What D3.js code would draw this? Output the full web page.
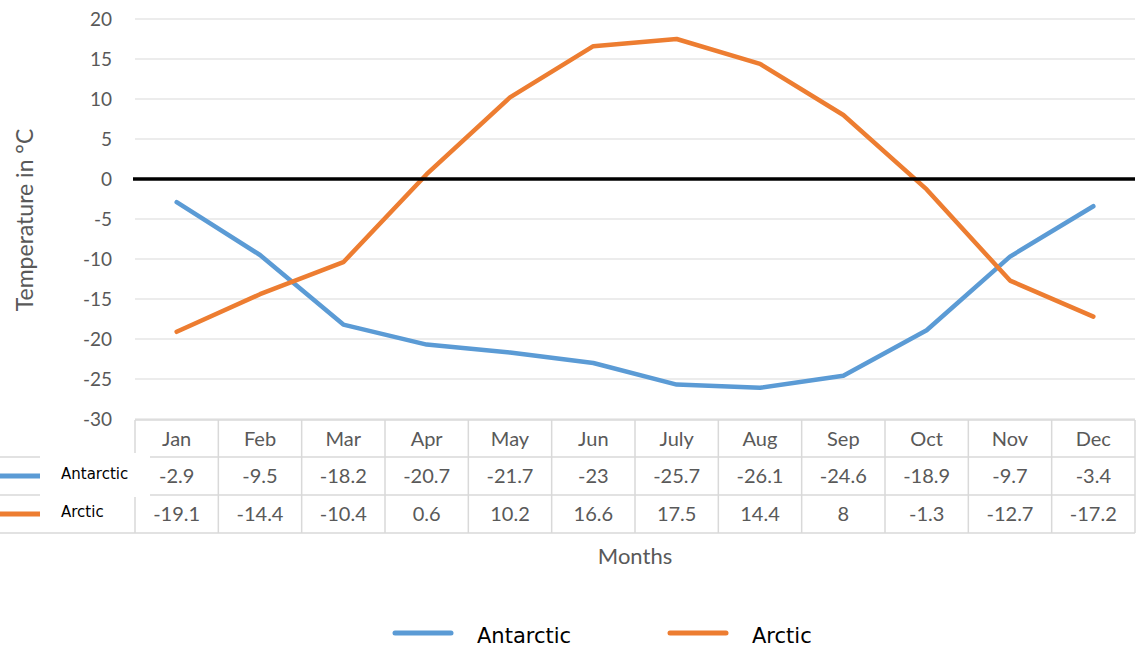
<!DOCTYPE html>
<html>
<head>
<meta charset="utf-8">
<script src="https://cdn.jsdelivr.net/npm/d3@7"></script>
<style>
  body { margin: 0; background: #fff; }
  text { font-family: Lato, "Open Sans", sans-serif; }
</style>
</head>
<body>
<div id="chart"></div>
<script>
// data
var months = ["Jan", "Feb", "Mar", "Apr", "May", "Jun", "July", "Aug", "Sep", "Oct", "Nov", "Dec"];
var antarctic = [-2.9, -9.5, -18.2, -20.7, -21.7, -23, -25.7, -26.1, -24.6, -18.9, -9.7, -3.4];
var arctic = [-19.1, -14.4, -10.4, 0.6, 10.2, 16.6, 17.5, 14.4, 8, -1.3, -12.7, -17.2];
var yTicks = [20, 15, 10, 5, 0, -5, -10, -15, -20, -25, -30];
var seriesNames = ["Antarctic", "Arctic"];
var colors = ["#5b9bd5", "#ed7d31"];

var W = 1141, H = 648;
var plot = {left: 135, right: 1135, top: 19, bottom: 419};

var svg = d3.select("#chart").append("svg")
    .attr("width", W)
    .attr("height", H);

// scales
var x = d3.scaleBand().domain(months).range([plot.left, plot.right]).padding(0);
var y = d3.scaleLinear().domain([-30, 20]).range([plot.bottom, plot.top]);

// gridlines
svg.append("g").selectAll("line")
    .data(yTicks.filter(function(d) { return d !== 0; }))
  .enter().append("line")
    .attr("x1", plot.left).attr("x2", plot.right)
    .attr("y1", function(d) { return y(d); })
    .attr("y2", function(d) { return y(d); })
    .style("stroke", "#d9d9d9")
    .style("stroke-width", 1.2);

// y tick labels
svg.append("g").selectAll("text")
    .data(yTicks)
  .enter().append("text")
    .attr("x", 112)
    .attr("y", function(d) { return y(d); })
    .attr("dy", "0.35em")
    .attr("text-anchor", "end")
    .style("font-size", "19px")
    .style("fill", "#595959")
    .text(function(d) { return d; });

// y axis title
svg.append("text")
    .attr("transform", "translate(33,220) rotate(-90)")
    .attr("text-anchor", "middle")
    .style("font-size", "23px")
    .style("fill", "#595959")
    .text("Temperature in °C");

// lines
var line = d3.line()
    .x(function(d, i) { return x(months[i]) + x.bandwidth() / 2; })
    .y(function(d) { return y(d); });

[antarctic, arctic].forEach(function(s, i) {
  svg.append("path")
      .datum(s)
      .attr("d", line)
      .style("fill", "none")
      .style("stroke", colors[i])
      .style("stroke-width", 4.5)
      .style("stroke-linejoin", "round")
      .style("stroke-linecap", "round");
});

// zero line
svg.append("line")
    .attr("x1", plot.left - 2).attr("x2", plot.right)
    .attr("y1", y(0)).attr("y2", y(0))
    .style("stroke", "#000")
    .style("stroke-width", 3.5);

// data table
var rowTop = [420, 457, 495, 533];
var tbl = svg.append("g");
var gridColor = "#d9d9d9";

// horizontal lines
tbl.selectAll("line.h")
    .data(rowTop)
  .enter().append("line")
    .attr("class", "h")
    .attr("x1", function(d, i) { return i === 0 ? plot.left : 0; })
    .attr("x2", plot.right)
    .attr("y1", function(d) { return d; })
    .attr("y2", function(d) { return d; })
    .style("stroke", gridColor)
    .style("stroke-width", 1.5);

// vertical lines
tbl.selectAll("line.v")
    .data(months.concat(["end"]))
  .enter().append("line")
    .attr("class", "v")
    .attr("x1", function(d, i) { return i < 12 ? x(d) : plot.right; })
    .attr("x2", function(d, i) { return i < 12 ? x(d) : plot.right; })
    .attr("y1", rowTop[0])
    .attr("y2", rowTop[3])
    .style("stroke", gridColor)
    .style("stroke-width", 1.5);

// header
tbl.selectAll("text.m")
    .data(months)
  .enter().append("text")
    .attr("class", "m")
    .attr("x", function(d) { return x(d) + x.bandwidth() / 2; })
    .attr("y", (rowTop[0] + rowTop[1]) / 2)
    .attr("dy", "0.35em")
    .attr("text-anchor", "middle")
    .style("font-size", "20px")
    .style("fill", "#595959")
    .text(function(d) { return d; });

[antarctic, arctic].forEach(function(s, r) {
  tbl.selectAll("text.r" + r)
      .data(s)
    .enter().append("text")
      .attr("class", "r" + r)
      .attr("x", function(d, i) { return x(months[i]) + x.bandwidth() / 2; })
      .attr("y", (rowTop[r + 1] + rowTop[r + 2]) / 2)
      .attr("dy", "0.35em")
      .attr("text-anchor", "middle")
      .style("font-size", "20px")
      .style("fill", "#595959")
      .text(function(d) { return d; });
});

// legend keys inside table (white box covers part of the grid)
tbl.append("rect")
    .attr("x", 40).attr("y", 453)
    .attr("width", 110).attr("height", 44)
    .style("fill", "#fff");

seriesNames.forEach(function(n, r) {
  var cy = (rowTop[r + 1] + rowTop[r + 2]) / 2;
  tbl.append("line")
      .attr("x1", 0).attr("x2", 40)
      .attr("y1", cy).attr("y2", cy)
      .style("stroke", colors[r])
      .style("stroke-width", 5);
  tbl.append("text")
      .attr("x", 61)
      .attr("y", cy - 2)
      .attr("dy", "0.35em")
      .style("font-size", "15px")
      .style("font-family", "'DejaVu Sans', sans-serif")
      .style("fill", "#000")
      .text(n);
});

// x axis title
svg.append("text")
    .attr("x", 635)
    .attr("y", 556)
    .attr("dy", "0.35em")
    .attr("text-anchor", "middle")
    .style("font-size", "22px")
    .style("fill", "#595959")
    .text("Months");

// bottom legend
var legX = [395, 670];
var leg = svg.append("g");
seriesNames.forEach(function(n, i) {
  leg.append("line")
      .attr("x1", legX[i]).attr("x2", legX[i] + 56)
      .attr("y1", 633).attr("y2", 633)
      .style("stroke", colors[i])
      .style("stroke-width", 5)
      .style("stroke-linecap", "round");
  leg.append("text")
      .attr("x", legX[i] + 82)
      .attr("y", 643)
      .style("font-size", "21px")
      .style("font-family", "'DejaVu Sans', sans-serif")
      .style("fill", "#000")
      .text(n);
});
</script>
</body>
</html>
